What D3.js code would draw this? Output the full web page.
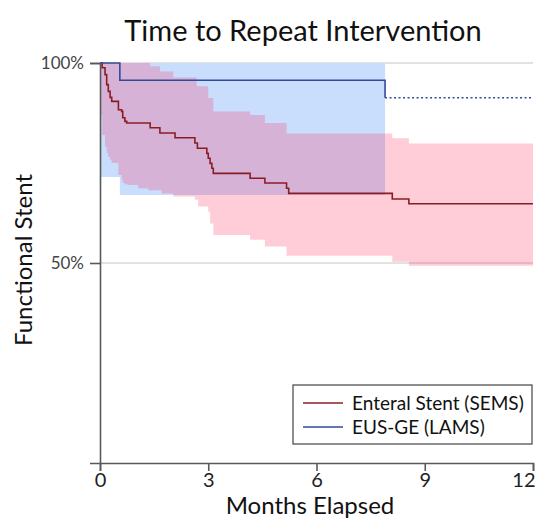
<!DOCTYPE html>
<html>
<head>
<meta charset="utf-8">
<script src="https://cdn.jsdelivr.net/npm/d3@7"></script>
<style>
  body { margin: 0; background: #fff; }
  text { font-family: Lato, "Open Sans", sans-serif; }
</style>
</head>
<body>
<script>
var width = 535, height = 520;

// Enteral stent (SEMS) Kaplan-Meier steps
const semsTime = [0, 0.06, 0.14, 0.185, 0.23, 0.28, 0.325, 0.51, 0.60, 0.63, 0.69, 0.74, 1.39, 1.66, 2.08, 2.63, 2.70, 2.96, 3.0, 3.05, 3.1, 3.14, 4.16, 4.57, 5.17, 5.23, 8.1, 8.56];
const semsSurv = [1, 0.988, 0.971, 0.946, 0.929, 0.914, 0.904, 0.883, 0.879, 0.863, 0.854, 0.85, 0.838, 0.825, 0.813, 0.80, 0.787, 0.774, 0.762, 0.749, 0.737, 0.724, 0.712, 0.70, 0.687, 0.674, 0.66, 0.648];
const semsUpTime = [0, 1.39, 1.66, 2.03, 2.68, 3.0, 3.14, 4.16, 4.57, 5.17, 8.1, 8.56];
const semsUp = [1, 0.992, 0.979, 0.964, 0.942, 0.9125, 0.879, 0.87, 0.85, 0.824, 0.812, 0.799];
const semsLowTime = [0, 0.06, 0.14, 0.185, 0.23, 0.28, 0.325, 0.51, 0.60, 0.63, 0.69, 0.77, 1.06, 1.34, 1.71, 2.03, 2.63, 2.72, 3.0, 3.05, 3.14, 4.16, 4.57, 5.17, 8.1, 8.56];
const semsLow = [0.87, 0.82, 0.79, 0.775, 0.765, 0.757, 0.75, 0.72, 0.707, 0.70, 0.697, 0.695, 0.687, 0.682, 0.674, 0.666, 0.658, 0.641, 0.628, 0.599, 0.57, 0.558, 0.541, 0.518, 0.503, 0.493];
const semsEnd = 12;

// EUS-GE (LAMS)
const lamsTime = [0, 0.55, 7.9];
const lamsSurv = [1, 0.957, 0.913];
const lamsUpTime = [0];
const lamsUp = [1];
const lamsLowTime = [0, 0.55];
const lamsLow = [0.715, 0.67];
const lamsEnd = 7.9;

const xTicks = [0, 3, 6, 9, 12];
const yTicks = [0.5, 1];
const legendLabels = ["Enteral Stent (SEMS)", "EUS-GE (LAMS)"];

const margin = {left: 100, right: 2, top: 63, bottom: 57};
const x = d3.scaleLinear().domain([0, 12]).range([margin.left, width - margin.right]);
const y = d3.scaleLinear().domain([0, 1]).range([height - margin.bottom, margin.top]);

const svg = d3.select("body").append("svg")
  .attr("width", width).attr("height", height);

function stepVal(times, vals, t) {
  let v = vals[0];
  for (let i = 0; i < times.length; i++) if (times[i] <= t) v = vals[i];
  return v;
}
function band(upT, up, loT, lo, end) {
  const ts = Array.from(new Set(upT.concat(loT))).sort((a, b) => a - b);
  const rows = ts.map(t => ({t: t, lo: stepVal(loT, lo, t), hi: stepVal(upT, up, t)}));
  rows.push({t: end, lo: rows[rows.length - 1].lo, hi: rows[rows.length - 1].hi});
  return rows;
}
function steps(times, vals, end) {
  const rows = times.map((t, i) => ({t: t, s: vals[i]}));
  if (end != null) rows.push({t: end, s: vals[vals.length - 1]});
  return rows;
}

// gridlines
svg.append("g").selectAll("line").data(yTicks).join("line")
  .attr("x1", x(0)).attr("x2", x(12))
  .attr("y1", d => y(d)).attr("y2", d => y(d))
  .attr("stroke", "#d9d9d9").attr("stroke-width", 1.5);

const area = d3.area().curve(d3.curveStepAfter)
  .x(d => x(d.t)).y0(d => y(d.lo)).y1(d => y(d.hi));

svg.append("path")
  .datum(band(lamsUpTime, lamsUp, lamsLowTime, lamsLow, lamsEnd))
  .attr("d", area)
  .attr("fill", "rgb(201,221,253)");

svg.append("path")
  .datum(band(semsUpTime, semsUp, semsLowTime, semsLow, semsEnd))
  .attr("d", area)
  .attr("fill", "rgb(255,30,80)")
  .attr("fill-opacity", 0.225);

const line = d3.line().curve(d3.curveStepAfter)
  .x(d => x(d.t)).y(d => y(d.s));

svg.append("path")
  .datum(steps(semsTime, semsSurv, semsEnd))
  .attr("d", line)
  .attr("fill", "none")
  .attr("stroke", "#8c1c24").attr("stroke-width", 1.6);

svg.append("path")
  .datum(steps(lamsTime, lamsSurv, null))
  .attr("d", line)
  .attr("fill", "none")
  .attr("stroke", "#33499a").attr("stroke-width", 1.6);

// censored tail, dotted
svg.append("path")
  .datum([{t: lamsEnd, s: lamsSurv[lamsSurv.length - 1]}, {t: 12, s: lamsSurv[lamsSurv.length - 1]}])
  .attr("d", line)
  .attr("fill", "none")
  .attr("stroke", "#33499a").attr("stroke-width", 1.6)
  .attr("stroke-dasharray", "2,2.5");

// axes
const xAxis = svg.append("g")
  .attr("transform", `translate(0,${y(0)})`)
  .call(d3.axisBottom(x).tickValues(xTicks).tickSize(8).tickPadding(2));
const yAxis = svg.append("g")
  .attr("transform", `translate(${x(0)},0)`)
  .call(d3.axisLeft(y).tickValues(yTicks).tickFormat(d3.format(".0%")).tickSize(10).tickPadding(6));

[xAxis, yAxis].forEach(g => {
  g.select(".domain").attr("stroke", "#595959").attr("stroke-width", 1.6);
  g.selectAll(".tick line").attr("stroke", "#595959").attr("stroke-width", 1.6);
});
xAxis.selectAll(".tick text").attr("font-size", 20).attr("fill", "#222")
  .style("font-family", "Lato, sans-serif");
xAxis.selectAll(".tick text").filter(d => d === 12)
  .attr("text-anchor", "end").attr("dx", 2);
yAxis.selectAll(".tick text").attr("font-size", 17).attr("fill", "#444")
  .style("font-family", "Lato, sans-serif");

// titles
svg.append("text")
  .attr("x", 303).attr("y", 41)
  .attr("text-anchor", "middle")
  .attr("font-size", 29).attr("fill", "#111")
  .text("Time to Repeat Intervention");

svg.append("text")
  .attr("x", 310).attr("y", 514)
  .attr("text-anchor", "middle")
  .attr("font-size", 24).attr("fill", "#111")
  .text("Months Elapsed");

svg.append("text")
  .attr("transform", `translate(32,260) rotate(-90)`)
  .attr("text-anchor", "middle")
  .attr("font-size", 24).attr("fill", "#111")
  .text("Functional Stent");

// legend
const lg = svg.append("g").attr("transform", "translate(293,385)");
lg.append("rect")
  .attr("width", 239).attr("height", 59)
  .attr("fill", "#fff").attr("stroke", "#444").attr("stroke-width", 1.2);
const legendColors = ["#8c1c24", "#33499a"];
legendLabels.forEach((lab, i) => {
  const yy = 18 + i * 24;
  lg.append("line")
    .attr("x1", 10).attr("x2", 50).attr("y1", yy).attr("y2", yy)
    .attr("stroke", legendColors[i]).attr("stroke-width", 1.6);
  lg.append("text")
    .attr("x", 59).attr("y", yy + 7)
    .attr("font-size", 19).attr("fill", "#111")
    .text(lab);
});
</script>
</body>
</html>
